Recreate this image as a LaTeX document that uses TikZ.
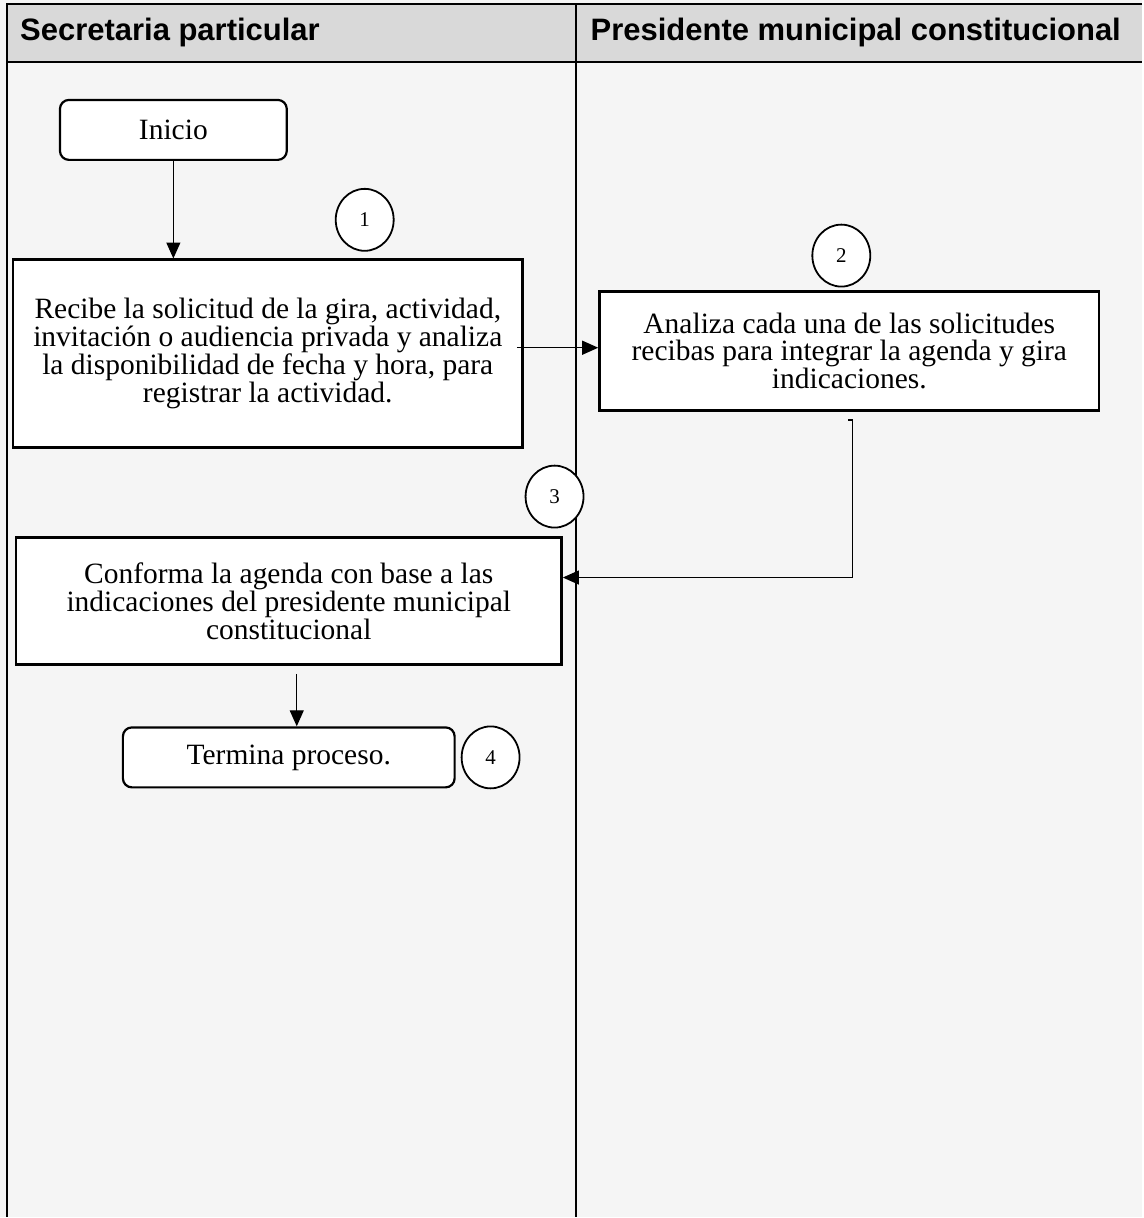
\documentclass[tikz,border=0pt]{standalone}
\usepackage{fontspec}
\setmainfont{Liberation Serif}
\newfontfamily\hdrfont{Liberation Sans}
\usetikzlibrary{arrows.meta,positioning,shapes.geometric}
\tikzset{
  blk/.style={draw,rectangle,line width=2.6pt,fill=white,align=center,inner sep=0pt,font=\fontsize{29.5}{26.7}\selectfont},
  procblk/.style={blk},
  termblk/.style={blk,rounded corners=9pt,line width=2.2pt},
  numnode/.style={ellipse,draw,line width=1.8pt,fill=white,minimum width=58pt,minimum height=62pt,inner sep=0pt,font=\fontsize{21}{21}\selectfont},
  lane/.style={line width=2pt},
  hdr/.style={anchor=base west,inner sep=0pt,font=\hdrfont\bfseries\fontsize{31}{31}\selectfont},
  arr/.style={-{Triangle[width=14pt,length=16pt]},line width=1.2pt}
}
\begin{document}
\begin{tikzpicture}[x=1pt,y=-1pt]
  % page and lanes
  \fill[black!4] (0,0) rectangle (1143,1218);
  \fill[black!15] (7,4) rectangle (1143,62);
  \draw[lane] (1143,4) -- (7,4) -- (7,1218);
  \draw[lane] (7,62) -- (1143,62);
  \draw[lane] (576,4) -- (576,1218);
  \node[hdr] (hsec) at (20,41) {Secretaria particular};
  \node[hdr] (hpres) at (591,41) {Presidente municipal constitucional};

  % steps
  \node[termblk, minimum width=227pt, minimum height=60pt] (ini) at (173.5,130) {Inicio};
  \node[procblk, minimum width=510pt, minimum height=188pt] (recibe) at (268,354) {Recibe la solicitud de la gira, actividad,\\invitación o audiencia privada y analiza\\la disponibilidad de fecha y hora, para\\registrar la actividad.};
  \node[procblk, minimum width=500pt, minimum height=119pt] (analiza) at (850,351.5) {Analiza cada una de las solicitudes\\recibas para integrar la agenda y gira\\indicaciones.};
  \node[procblk, minimum width=546pt, minimum height=127pt] (conforma) at (289,601.5) {Conforma la agenda con base a las\\indicaciones del presidente municipal\\constitucional};
  \node[termblk, minimum width=332pt, minimum height=60pt] (fin) at (289,758) {Termina proceso.};

  \node[numnode] (n1) at (365,220) {1};
  \node[numnode, above=3pt of analiza, xshift=-8pt] (n2) {2};
  \node[numnode] (n3) at (555,497) {3};
  \node[numnode, right=5pt of fin] (n4) {4};

  \draw[arr] (ini.south) -- (ini.south |- recibe.north);
  \draw[arr] ([xshift=-7pt,yshift=6pt]recibe.east) -- ([yshift=6pt]recibe.east -| analiza.west);
  \draw[arr] ([xshift=-1pt,yshift=-8pt]analiza.south) -- ++(4,0) |- ([yshift=23.5pt]conforma.east);
  \draw[arr] ([xshift=8pt,yshift=-8pt]conforma.south) -- ([xshift=8pt]conforma.south |- fin.north);
\end{tikzpicture}
\end{document}
